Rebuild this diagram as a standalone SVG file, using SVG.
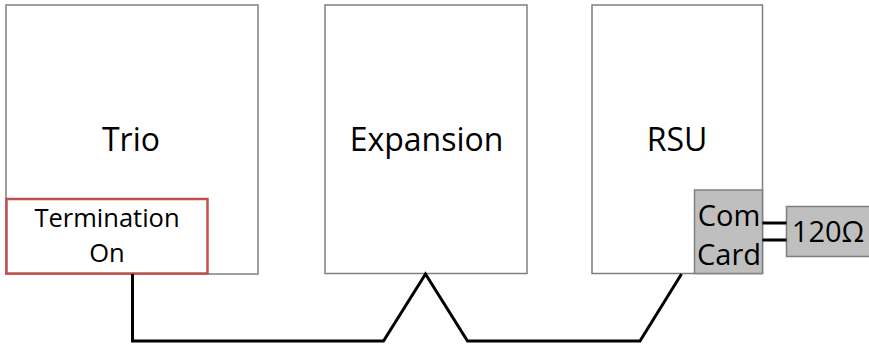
<svg xmlns="http://www.w3.org/2000/svg" width="869" height="345" viewBox="0 0 869 345">
<style>
.box{fill:#ffffff;stroke:#7f7f7f;stroke-width:1.5}
.card{fill:#bfbfbf;stroke:#7f7f7f;stroke-width:1.5}
.term{fill:#ffffff;stroke:#c0504d;stroke-width:2.5}
.wire{fill:none;stroke:#000000;stroke-width:3;stroke-linejoin:miter}
text{font-family:"Open Sans","Noto Sans","DejaVu Sans",sans-serif;fill:#000000;text-anchor:middle}
.big{font-size:32px}
.mid{font-size:29px}
.small{font-size:25.5px}
</style>
<rect width="869" height="345" fill="#ffffff"/>
<g id="trio">
<rect class="box" x="6" y="5" width="252" height="269"/>
<text class="big" x="131" y="151">Trio</text>
</g>
<g id="termination">
<rect class="term" x="6.5" y="199" width="201" height="74.5"/>
<text class="small" x="107" y="227">Termination</text>
<text class="small" x="107" y="262">On</text>
</g>
<g id="expansion">
<rect class="box" x="325" y="5" width="202" height="268.5"/>
<text class="big" x="426.5" y="151">Expansion</text>
</g>
<g id="rsu">
<rect class="box" x="592" y="5" width="170.5" height="268.5"/>
<text class="big" x="677" y="151">RSU</text>
</g>
<g id="comcard">
<rect class="card" x="694.5" y="190" width="68" height="83.5"/>
<text class="mid" x="729" y="226">Com</text>
<text class="mid" x="729" y="265">Card</text>
</g>
<g id="resistor">
<rect class="card" x="786.5" y="206.5" width="86" height="50"/>
<text class="mid" x="828" y="242">120Ω</text>
</g>
<g id="connectors">
<polyline class="wire" points="132.5,274 132.5,341 383.5,341 425.5,274 467.5,341 640,341 681.5,274"/>
<line class="wire" x1="762.5" y1="223" x2="786.5" y2="223"/>
<line class="wire" x1="762.5" y1="240" x2="786.5" y2="240"/>
</g>
</svg>
